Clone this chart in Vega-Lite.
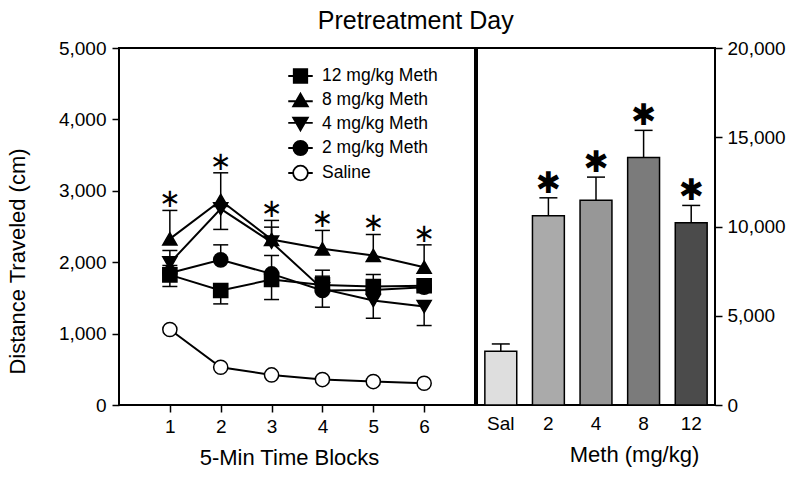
{
  "$schema": "https://vega.github.io/schema/vega-lite/v6.json",
  "background": "white",
  "padding": {"left": 5, "top": 9, "right": 5, "bottom": 5},
  "title": {"text": "Pretreatment Day", "fontSize": 25, "font": "Liberation Sans", "fontWeight": "normal", "color": "black", "anchor": "middle", "offset": 4, "dx": 20},
  "datasets": {
    "timecourse": [
      {"series": "12 mg/kg Meth", "x": 1, "mean": 1822, "eb": 1660},
      {"series": "12 mg/kg Meth", "x": 2, "mean": 1603, "eb": 1416},
      {"series": "12 mg/kg Meth", "x": 3, "mean": 1757, "eb": 1477},
      {"series": "12 mg/kg Meth", "x": 4, "mean": 1682, "eb": 1888},
      {"series": "12 mg/kg Meth", "x": 5, "mean": 1660, "eb": 1826},
      {"series": "12 mg/kg Meth", "x": 6, "mean": 1670, "eb": null},
      {"series": "8 mg/kg Meth", "x": 1, "mean": 2327, "eb": 2725},
      {"series": "8 mg/kg Meth", "x": 2, "mean": 2865, "eb": 3252},
      {"series": "8 mg/kg Meth", "x": 3, "mean": 2318, "eb": 2585},
      {"series": "8 mg/kg Meth", "x": 4, "mean": 2187, "eb": 2445},
      {"series": "8 mg/kg Meth", "x": 5, "mean": 2094, "eb": 2388},
      {"series": "8 mg/kg Meth", "x": 6, "mean": 1930, "eb": 2243},
      {"series": "4 mg/kg Meth", "x": 1, "mean": 1990, "eb": 2164},
      {"series": "4 mg/kg Meth", "x": 2, "mean": 2747, "eb": 2459},
      {"series": "4 mg/kg Meth", "x": 3, "mean": 2280, "eb": 2491},
      {"series": "4 mg/kg Meth", "x": 4, "mean": 1626, "eb": 1370},
      {"series": "4 mg/kg Meth", "x": 5, "mean": 1463, "eb": 1215},
      {"series": "4 mg/kg Meth", "x": 6, "mean": 1379, "eb": 1113},
      {"series": "2 mg/kg Meth", "x": 1, "mean": 1850, "eb": 1954},
      {"series": "2 mg/kg Meth", "x": 2, "mean": 2033, "eb": 2243},
      {"series": "2 mg/kg Meth", "x": 3, "mean": 1836, "eb": 2094},
      {"series": "2 mg/kg Meth", "x": 4, "mean": 1603, "eb": 1804},
      {"series": "2 mg/kg Meth", "x": 5, "mean": 1610, "eb": null},
      {"series": "2 mg/kg Meth", "x": 6, "mean": 1650, "eb": null},
      {"series": "Saline", "x": 1, "mean": 1057, "eb": null},
      {"series": "Saline", "x": 2, "mean": 528, "eb": null},
      {"series": "Saline", "x": 3, "mean": 421, "eb": null},
      {"series": "Saline", "x": 4, "mean": 356, "eb": null},
      {"series": "Saline", "x": 5, "mean": 328, "eb": null},
      {"series": "Saline", "x": 6, "mean": 304, "eb": null}
    ],
    "stars": [
      {"x": 1, "y": 2725},
      {"x": 2, "y": 3252},
      {"x": 3, "y": 2585},
      {"x": 4, "y": 2445},
      {"x": 5, "y": 2388},
      {"x": 6, "y": 2243}
    ],
    "bars": [
      {"dose": "Sal", "mean": 3011, "eb": 3420, "star": false},
      {"dose": "2", "mean": 10597, "eb": 11607, "star": true},
      {"dose": "4", "mean": 11477, "eb": 12767, "star": true},
      {"dose": "8", "mean": 13871, "eb": 15386, "star": true},
      {"dose": "12", "mean": 10205, "eb": 11180, "star": true}
    ]
  },
  "spacing": 0,
  "hconcat": [
    {
      "width": 356,
      "height": 357,
      "data": {"name": "timecourse"},
      "encoding": {
        "x": {"field": "x", "type": "quantitative", "scale": {"domain": [0, 7], "nice": false},
              "axis": {"values": [1, 2, 3, 4, 5, 6], "title": "5-Min Time Blocks", "titleX": 170, "labelPadding": 5, "titlePadding": 11}},
        "y": {"field": "mean", "type": "quantitative", "scale": {"domain": [0, 5000], "nice": false},
              "axis": {"values": [0, 1000, 2000, 3000, 4000, 5000], "format": ",.0f", "title": "Distance Traveled (cm)", "titleY": 213, "titleX": -94.7, "titleBaseline": "alphabetic", "labelPadding": 6}}
      },
      "layer": [
        {
          "transform": [{"filter": "datum.eb != null"}],
          "mark": {"type": "rule", "color": "black", "strokeWidth": 1.5},
          "encoding": {"y2": {"field": "eb"}}
        },
        {
          "transform": [{"filter": "datum.eb != null"}],
          "mark": {"type": "tick", "orient": "horizontal", "color": "black", "size": 15, "thickness": 1.5, "opacity": 1},
          "encoding": {"y": {"field": "eb", "type": "quantitative"}}
        },
        {
          "mark": {"type": "line", "color": "black", "strokeWidth": 2},
          "encoding": {"detail": {"field": "series", "type": "nominal"}}
        },
        {
          "mark": {"type": "point", "stroke": "black", "strokeWidth": 1.5, "opacity": 1, "size": 200},
          "encoding": {
            "shape": {"field": "series", "type": "nominal",
                      "scale": {"domain": ["12 mg/kg Meth", "8 mg/kg Meth", "4 mg/kg Meth", "2 mg/kg Meth", "Saline"],
                                "range": ["square", "triangle-up", "triangle-down", "circle", "circle"]},
                      "legend": null},
            "fill": {"field": "series", "type": "nominal",
                     "scale": {"domain": ["12 mg/kg Meth", "8 mg/kg Meth", "4 mg/kg Meth", "2 mg/kg Meth", "Saline"],
                               "range": ["black", "black", "black", "black", "white"]},
                     "legend": null}
          }
        },
        {
          "transform": [{"filter": "false"}],
          "mark": {"type": "point", "strokeWidth": 1.8, "opacity": 1},
          "encoding": {
            "shape": {"field": "series", "type": "nominal",
                      "scale": {"domain": ["12 mg/kg Meth", "8 mg/kg Meth", "4 mg/kg Meth", "2 mg/kg Meth", "Saline"],
                                "range": [
                                  "M-1,0H1M-0.55,-0.55H0.55V0.55H-0.55Z",
                                  "M-1,0.1H1M0,-0.52L0.6,0.52L-0.6,0.52Z",
                                  "M-1,-0.1H1M0,0.52L0.6,-0.52L-0.6,-0.52Z",
                                  "M-1,0H1M0.58,0A0.58,0.58 0 1,1 -0.58,0A0.58,0.58 0 1,1 0.58,0Z",
                                  "M-1,0H-0.6M0.6,0H1M0.6,0A0.6,0.6 0 1,1 -0.6,0A0.6,0.6 0 1,1 0.6,0Z"
                                ]},
                      "legend": {"orient": "none", "legendX": 168, "legendY": 14.5, "title": null, "symbolSize": 600,
                                 "labelFontSize": 17.5, "labelFont": "Liberation Sans", "labelColor": "black", "labelOffset": 8,
                                 "rowPadding": 0, "padding": 0, "symbolStrokeWidth": 1.8, "symbolOpacity": 1}},
            "fill": {"field": "series", "type": "nominal",
                     "scale": {"domain": ["12 mg/kg Meth", "8 mg/kg Meth", "4 mg/kg Meth", "2 mg/kg Meth", "Saline"],
                               "range": ["black", "black", "black", "black", "white"]}},
            "stroke": {"field": "series", "type": "nominal",
                     "scale": {"domain": ["12 mg/kg Meth", "8 mg/kg Meth", "4 mg/kg Meth", "2 mg/kg Meth", "Saline"],
                               "range": ["black", "black", "black", "black", "black"]}}
          }
        },
        {
          "data": {"name": "stars"},
          "mark": {"type": "text", "text": "∗", "font": "DejaVu Sans", "fontSize": 26, "color": "black", "baseline": "middle", "dy": -11},
          "encoding": {"y": {"field": "y", "type": "quantitative"}}
        }
      ],
      "resolve": {"scale": {"shape": "independent", "fill": "independent", "stroke": "independent"}}
    },
    {
      "width": 238,
      "height": 357,
      "data": {"name": "bars"},
      "encoding": {
        "x": {"field": "dose", "type": "nominal", "sort": null,
              "scale": {"paddingInner": 0.33, "paddingOuter": 0.165},
              "axis": {"ticks": false, "labelAngle": 0, "title": "Meth (mg/kg)", "titleX": 157, "labelPadding": 9, "titlePadding": 11}},
        "y": {"field": "mean", "type": "quantitative", "scale": {"domain": [0, 20000], "nice": false},
              "axis": {"orient": "right", "values": [0, 5000, 10000, 15000, 20000], "format": ",.0f", "title": null, "labelPadding": 5}}
      },
      "layer": [
        {
          "mark": {"type": "bar", "stroke": "black", "strokeWidth": 1.5},
          "encoding": {
            "fill": {"field": "dose", "type": "nominal", "sort": null,
                     "scale": {"domain": ["Sal", "2", "4", "8", "12"], "range": ["#dedede", "#aaaaaa", "#979797", "#7b7b7b", "#4b4b4b"]},
                     "legend": null}
          }
        },
        {
          "mark": {"type": "rule", "color": "black", "strokeWidth": 1.5},
          "encoding": {"y2": {"field": "eb"}}
        },
        {
          "mark": {"type": "tick", "orient": "horizontal", "color": "black", "size": 18, "thickness": 1.5, "opacity": 1},
          "encoding": {"y": {"field": "eb", "type": "quantitative"}}
        },
        {
          "transform": [{"filter": "datum.star"}],
          "mark": {"type": "text", "text": "✱", "font": "DejaVu Sans", "fontSize": 30, "color": "black", "baseline": "middle", "dy": -14},
          "encoding": {"y": {"field": "eb", "type": "quantitative"}}
        }
      ]
    }
  ],
  "config": {
    "font": "Liberation Sans",
    "view": {"stroke": "black", "strokeWidth": 2},
    "axis": {"domain": false, "grid": false, "labelFont": "Liberation Sans", "labelFontSize": 19, "labelColor": "black",
             "titleFont": "Liberation Sans", "titleFontSize": 22, "titleFontWeight": "normal", "titleColor": "black",
             "tickColor": "black", "tickWidth": 1.5, "tickSize": 7}
  }
}
